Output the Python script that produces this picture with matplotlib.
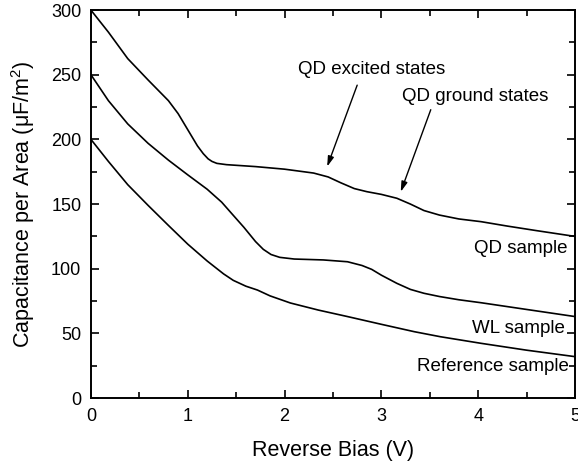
import matplotlib
matplotlib.use("Agg")
import matplotlib.pyplot as plt
from matplotlib.ticker import MultipleLocator

plt.rcParams['font.family'] = ['Liberation Sans', 'DejaVu Sans']
plt.rcParams['mathtext.fontset'] = 'custom'
plt.rcParams['mathtext.rm'] = 'Liberation Sans'

# curves
qd_x = [0, 0.18, 0.38, 0.59, 0.8, 0.9, 1.0, 1.1, 1.16, 1.21, 1.25, 1.3, 1.4, 1.7, 2.0,
        2.3, 2.45, 2.58, 2.72, 2.85, 3.0, 3.16, 3.3, 3.44, 3.6, 3.8, 4.03, 4.3, 4.6, 5.0]
qd_y = [300, 283, 262.5, 246, 230, 220, 207.5, 195, 189, 185, 183, 181.5, 180.5, 179, 177,
        174, 171, 166.5, 162, 159.6, 157.5, 154.5, 150, 145, 141.5, 138.5, 136.4, 133, 129.5, 125]

wl_x = [0, 0.18, 0.38, 0.59, 0.8, 1.0, 1.2, 1.35, 1.45, 1.58, 1.7, 1.78, 1.86, 1.95,
        2.1, 2.4, 2.65, 2.8, 2.9, 3.0, 3.16, 3.3, 3.44, 3.6, 3.8, 4.03, 4.5, 5.0]
wl_y = [250, 230, 212, 197, 184, 172.6, 161.5, 151.5, 143, 132, 121, 115, 111, 108.8,
        107.5, 106.8, 105.4, 102.5, 99.5, 95, 88.7, 84, 81, 78.5, 76, 73.7, 68.5, 63]

ref_x = [0, 0.18, 0.38, 0.59, 0.8, 1.0, 1.2, 1.37, 1.47, 1.6, 1.72, 1.85, 2.06, 2.35,
         2.65, 3.0, 3.34, 3.61, 4.03, 4.5, 5.0]
ref_y = [200, 183, 165, 149, 133.5, 119, 106, 96, 91, 86.5, 83.5, 79, 73.5, 68,
         63, 57, 51.3, 47.4, 42.3, 37, 32]

fig = plt.figure(figsize=(5.78, 4.62), dpi=100)
ax = fig.add_axes([0.1574, 0.1385, 0.8374, 0.8395])

for xs, ys in [(qd_x, qd_y), (wl_x, wl_y), (ref_x, ref_y)]:
    ax.plot(xs, ys, color='k', lw=1.2)

ax.set_xlim(0, 5)
ax.set_ylim(0, 300)
ax.xaxis.set_major_locator(MultipleLocator(1))
ax.xaxis.set_minor_locator(MultipleLocator(0.5))
ax.yaxis.set_major_locator(MultipleLocator(50))
ax.yaxis.set_minor_locator(MultipleLocator(25))
ax.tick_params(which='both', direction='in', top=True, right=True, width=1.2, labelsize=13)
ax.tick_params(which='major', length=5.5, pad=7)
ax.tick_params(which='minor', length=4)
for s in ax.spines.values():
    s.set_linewidth(1.4)

ax.set_xlabel("Reverse Bias (V)", fontsize=15.5, labelpad=11)
ax.set_ylabel("Capacitance per Area (μF/m$^2$)", fontsize=15.5, labelpad=10)

# curve labels
ax.text(4.92, 116, "QD sample", ha='right', va='center', fontsize=13.5)
ax.text(4.9, 53.5, "WL sample", ha='right', va='center', fontsize=13.5)
ax.text(4.94, 24, "Reference sample", ha='right', va='center', fontsize=13.5)

arrow = dict(arrowstyle='-|>,head_width=0.18,head_length=0.6', color='k', lw=1.0,
             shrinkA=0, shrinkB=0)
ax.text(2.9, 254, "QD excited states", ha='center', va='center', fontsize=13.5)
ax.annotate("", xy=(2.44, 179), xytext=(2.75, 242), arrowprops=arrow)
ax.text(3.97, 233, "QD ground states", ha='center', va='center', fontsize=13.5)
ax.annotate("", xy=(3.2, 159.5), xytext=(3.51, 223), arrowprops=arrow)

fig.savefig("out.png", dpi=100)
